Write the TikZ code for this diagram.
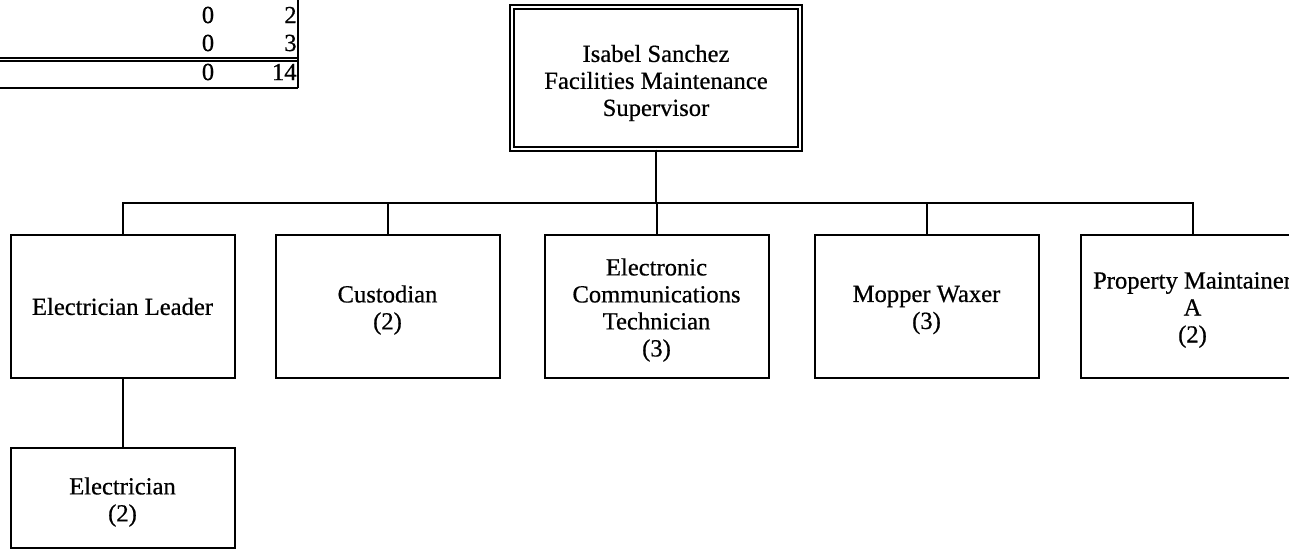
\documentclass[tikz,border=0pt]{standalone}
\usepackage{fontspec}
\setmainfont{Liberation Serif}
\newfontfamily\orgfam{Liberation Serif}[FakeBold=0.6]
\usetikzlibrary{positioning,calc}
\newcommand{\orgfont}{\orgfam\fontsize{12.3}{13.5}\selectfont}
\tikzset{
  orgnode/.style={
    draw, line width=1pt, minimum width=112pt, minimum height=71.5pt, inner sep=0pt
  },
  orgtext/.style={font=\orgfont, align=center, inner sep=0pt, yshift=-1.75pt},
  headnode/.style={orgnode, double, double distance=1.2pt, line width=0.75pt,
    minimum width=144pt, minimum height=71pt},
  orgline/.style={line width=1pt},
  rule/.style={line width=0.9pt},
  cellnum/.style={font=\orgfont, inner sep=0pt}
}

\begin{document}
\begin{tikzpicture}[x=0.5pt, y=-0.5pt]
  \useasboundingbox (0,0) rectangle (1289,551);
  \clip (0,0) rectangle (1289,551);

  % tail of the staffing table
  \foreach \ry/\a/\b in {15/0/2, 43/0/3, 72/0/14}{
    \node[cellnum] (c\ry) at (208,\ry) {\a};
    \node[cellnum, anchor=east] (t\ry) at (297,\ry) {\b};
  }
  \draw[line width=0.6pt] (0,58) -- (298,58);
  \draw[rule] (0,61) -- (298,61);
  \draw[rule] (0,88) -- (298,88);
  \draw[rule] (298,0) -- (298,88);

  % supervisor
  \node[headnode, label={[orgtext, yshift=-0.75pt]center:{Isabel Sanchez\\Facilities Maintenance\\Supervisor}}]
    (boss) at (656,78) {};
  \coordinate (bus) at (656,203);

  % direct reports
  \foreach \nm/\x/\txt in {
    cust/387.5/{Custodian\\(2)},
    tech/656.5/{Electronic\\Communications\\Technician\\(3)},
    mop/926.5/{Mopper Waxer\\(3)},
    prop/1192.5/{Property Maintainer\\A\\(2)}}{
    \node[orgnode, label={[orgtext]center:{\txt}}] (\nm) at (\x,306.5) {};
    \draw[orgline] (boss.south) -- (bus) -| (\nm.north);
  }
  \node[orgnode, label={[orgtext, yshift=1.75pt]center:{Electrician Leader}}] (lead) at (122.5,306.5) {};
  \draw[orgline] (bus) -| (lead.north);

  \node[orgnode, minimum height=50pt, label={[orgtext, yshift=-0.25pt]center:{Electrician\\(2)}}]
    (elec) at (122.5,498) {};
  \draw[orgline] (lead) -- (elec);
\end{tikzpicture}
\end{document}
